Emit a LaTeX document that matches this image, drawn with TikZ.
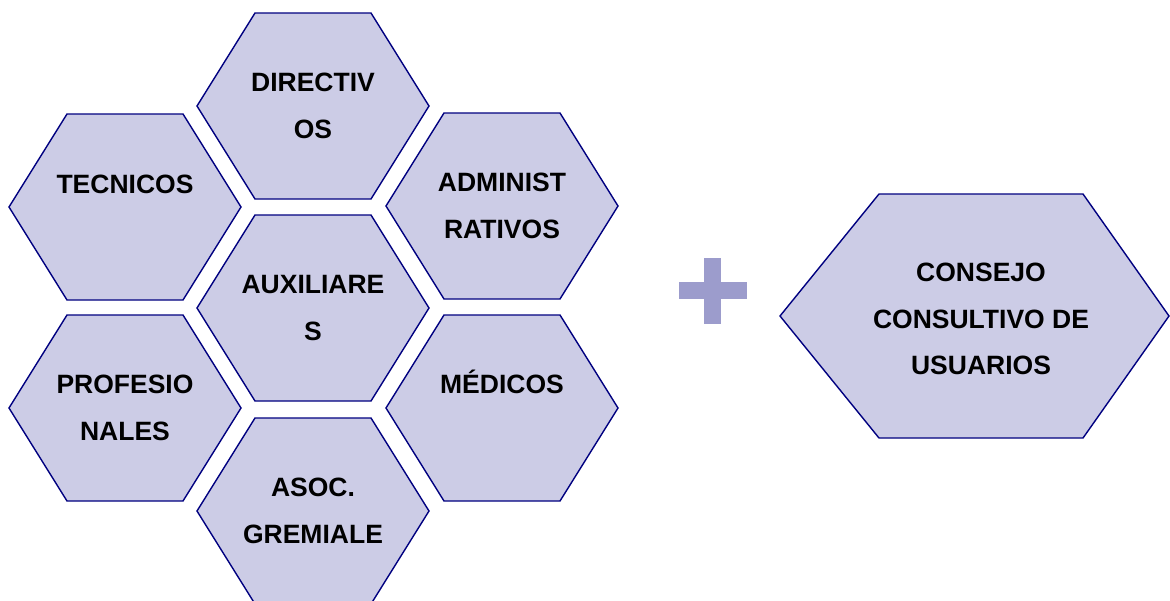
\documentclass[tikz,border=0pt]{standalone}
\usepackage{fontspec}
\setmainfont{Liberation Sans}
\definecolor{hexfill}{RGB}{204,204,230}
\definecolor{hexline}{RGB}{0,0,128}
\definecolor{plusc}{RGB}{156,156,204}
\tikzset{
  hexshape/.style={fill=hexfill, draw=hexline, line width=1.4pt, line join=miter},
  hextext/.style={align=center, inner sep=0pt, font=\fontsize{26.5}{46.5}\selectfont\bfseries, text=black},
}
% \hexcell{name}{cx}{cy}{text}{text dy}
\newcommand{\hexcell}[5]{%
  \draw[hexshape] (#2-116,#3) -- (#2-58,#3-93) -- (#2+58,#3-93) -- (#2+116,#3)
     -- (#2+58,#3+93) -- (#2-58,#3+93) -- cycle;
  \node[hextext] (#1) at (#2,#3+#5) {#4};
}
\begin{document}
\begin{tikzpicture}[x=1pt,y=-1pt]
\useasboundingbox (0,0) rectangle (1170,600);
\fill[white] (0,0) rectangle (1170,600);
\hexcell{dir}{313}{106}{DIRECTIV\\OS}{0}
\hexcell{tec}{125}{207}{TECNICOS\\\mbox{}}{0}
\hexcell{adm}{502}{206}{ADMINIST\\RATIVOS}{0}
\hexcell{aux}{313}{308}{AUXILIARE\\S}{0}
\hexcell{pro}{125}{408}{PROFESIO\\NALES}{0}
\hexcell{med}{502}{408}{MÉDICOS\\\mbox{}}{-3}
\hexcell{aso}{313}{511}{ASOC.\\GREMIALE}{0}
% big hexagon
\draw[hexshape] (780,316) -- (879,194) -- (1083,194) -- (1169,316)
   -- (1083,438) -- (879,438) -- cycle;
\node[hextext] (cons) at (981,319) {CONSEJO\\CONSULTIVO DE\\USUARIOS};
% plus sign
\fill[plusc] (704,258) rectangle (721,324);
\fill[plusc] (679,282) rectangle (747,299);
\end{tikzpicture}
\end{document}
